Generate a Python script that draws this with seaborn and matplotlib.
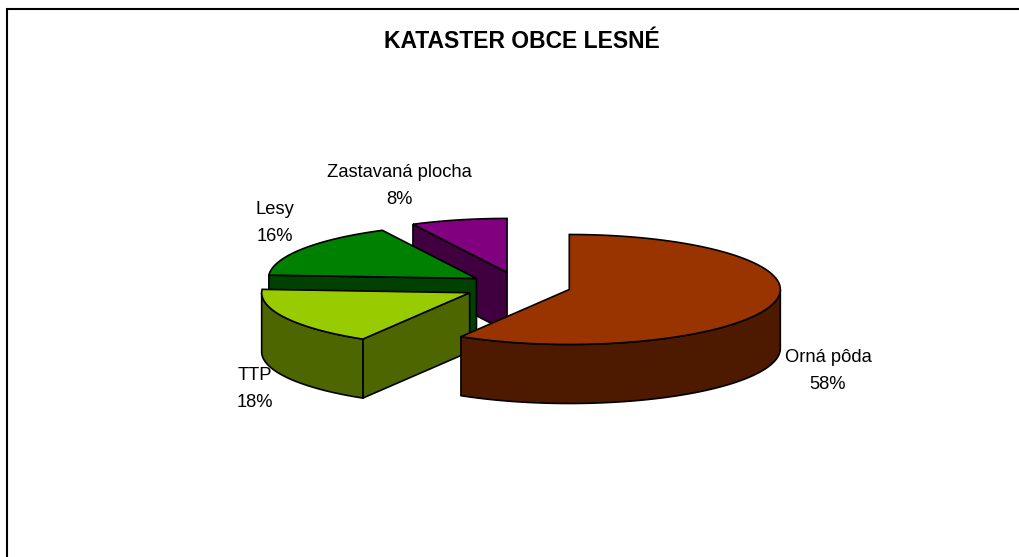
import numpy as np
import matplotlib
matplotlib.use("Agg")
import matplotlib.pyplot as plt
import seaborn as sns

categories = ["Orná pôda", "TTP", "Lesy", "Zastavaná plocha"]
shares = [58, 18, 16, 8]
top_colors = ["#993300", "#99cc00", "#008000", "#800080"]
side_colors = ["#4d1a00", "#4d6600", "#004000", "#400040"]
title = "KATASTER OBCE LESNÉ"

# pie layout (pixels); perspective_deg mimics the slight perspective
# distortion of the slice boundaries in a 3D pie
CX, CY = 517, 286
radius_x = [211, 208, 208, 208]
radius_y = [55, 54, 54, 54]
DEPTH = 59
explode_x = [54, 54, 48, 40]
explode_y = [14, 14, 14, 14]
perspective_deg = [0, 2.1, 0, 1.9, 0]
label_pos = [(828, 371), (255, 389), (275, 223), (399, 186)]

sns.set_theme(style="white")
plt.rcParams["font.family"] = ["Liberation Sans", "DejaVu Sans"]

fig = plt.figure(figsize=(10.19, 5.57), dpi=100)
ax = fig.add_axes([0, 0, 1, 1])
ax.set_xlim(0, 1019)
ax.set_ylim(557, 0)
ax.axis("off")

# chart frame, cut off on the right and at the bottom
ax.plot([7, 7, 1019], [557, 9, 9], color="black", lw=1.5,
        solid_joinstyle="miter", zorder=1)

palette = sns.color_palette(top_colors)
sides = sns.color_palette(side_colors)
raw_stops = np.cumsum([0] + shares) * 3.6
stops = raw_stops + np.array(perspective_deg)
z = 2
for i in np.arange(len(shares))[::-1]:
    start, end = stops[i], stops[i + 1]
    t = np.radians((raw_stops[i] + raw_stops[i + 1]) / 2)
    ox = CX + explode_x[i] * np.sin(t)
    oy = CY - explode_y[i] * np.cos(t)

    def point(deg):
        r = np.radians(deg)
        return ox + radius_x[i] * np.sin(r), oy - radius_y[i] * np.cos(r)

    # cut faces turned towards the viewer
    for deg, visible in ((start, np.sin(np.radians(start)) < -1e-9),
                         (end, np.sin(np.radians(end)) > 1e-9)):
        if visible:
            px, py = point(deg)
            ax.fill([ox, px, px, ox], [oy, py, py + DEPTH, oy + DEPTH],
                    facecolor=sides[i], edgecolor="black", lw=1.2,
                    joinstyle="miter", zorder=z)
            z += 1

    # outer wall, only the front half of the rim is visible
    lo, hi = max(start, 90), min(end, 270)
    if lo < hi:
        px, py = point(np.linspace(lo, hi, 80))
        ax.fill(np.r_[px, px[::-1]], np.r_[py, py[::-1] + DEPTH],
                facecolor=sides[i], edgecolor="black", lw=1.2,
                joinstyle="miter", zorder=z)
        z += 1

    # top surface
    px, py = point(np.linspace(start, end, 160))
    ax.fill(np.r_[ox, px], np.r_[oy, py], facecolor=palette[i],
            edgecolor="black", lw=1.2, joinstyle="miter", zorder=z)
    z += 1

for name, share, (lx, ly) in zip(categories, shares, label_pos):
    ax.text(lx, ly, f"{name}\n{share}%", ha="center", va="center",
            fontsize=13.2, color="black", linespacing=1.8, zorder=50)

ax.text(521.5, 42, title, ha="center", va="center", fontsize=16.5,
        fontweight="bold", color="black", zorder=50)

fig.savefig("out.png", dpi=100, facecolor="white")
